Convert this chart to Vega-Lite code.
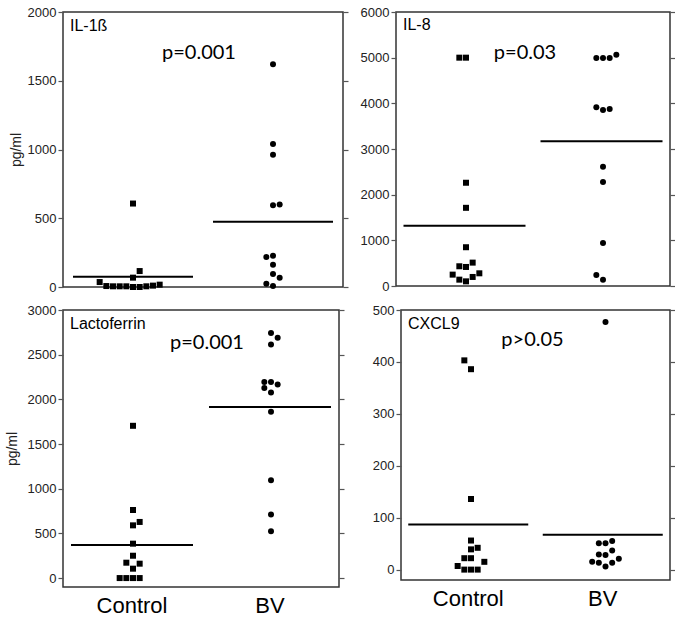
{
  "$schema": "https://vega.github.io/schema/vega-lite/v6.json",
  "padding": {"left": 4, "top": 5, "right": 4, "bottom": 0},
  "background": "white",
  "spacing": 8,
  "config": {
    "view": {"stroke": "#333", "strokeWidth": 1.5},
    "axis": {"labelFont": "Liberation Sans", "labelFontSize": 13, "labelColor": "#222", "tickColor": "#555", "tickSize": 5, "tickWidth": 1.2, "labelPadding": 2, "domain": false, "grid": false, "titleFont": "Liberation Sans", "titleFontWeight": "normal", "titleFontSize": 14, "titleColor": "#222", "titlePadding": 4},
    "tick": {"opacity": 1}
  },
  "datasets": {
    "il1b": [
      {"g": "Control", "col": 0, "v": 607}, {"g": "Control", "col": 1, "v": 116}, {"g": "Control", "col": 0, "v": 68},
      {"g": "Control", "col": -5, "v": 36}, {"g": "Control", "col": -4, "v": 7}, {"g": "Control", "col": -3, "v": 5},
      {"g": "Control", "col": -2, "v": 5}, {"g": "Control", "col": -1, "v": 5}, {"g": "Control", "col": 0, "v": 0},
      {"g": "Control", "col": 1, "v": 0}, {"g": "Control", "col": 2, "v": 5}, {"g": "Control", "col": 3, "v": 10},
      {"g": "Control", "col": 4, "v": 17},
      {"g": "BV", "col": 0, "v": 1620}, {"g": "BV", "col": 0, "v": 1040}, {"g": "BV", "col": 0, "v": 962},
      {"g": "BV", "col": 0, "v": 595}, {"g": "BV", "col": 1, "v": 600}, {"g": "BV", "col": 0, "v": 227},
      {"g": "BV", "col": -1, "v": 218}, {"g": "BV", "col": 0, "v": 162}, {"g": "BV", "col": 0, "v": 94},
      {"g": "BV", "col": 1, "v": 68}, {"g": "BV", "col": -1, "v": 24}, {"g": "BV", "col": 0, "v": 7}
    ],
    "il1b_med": [{"g": "Control", "v": 75}, {"g": "BV", "v": 475}],
    "il8": [
      {"g": "Control", "col": -1, "v": 5000}, {"g": "Control", "col": 0, "v": 5000}, {"g": "Control", "col": 0, "v": 2261},
      {"g": "Control", "col": 0, "v": 1712}, {"g": "Control", "col": 0, "v": 849}, {"g": "Control", "col": -1, "v": 432},
      {"g": "Control", "col": 0, "v": 417}, {"g": "Control", "col": 1, "v": 512}, {"g": "Control", "col": -2, "v": 249},
      {"g": "Control", "col": -1, "v": 139}, {"g": "Control", "col": 0, "v": 102}, {"g": "Control", "col": 1, "v": 198},
      {"g": "Control", "col": 2, "v": 278},
      {"g": "BV", "col": -1, "v": 4990}, {"g": "BV", "col": 0, "v": 4990}, {"g": "BV", "col": 1, "v": 4990},
      {"g": "BV", "col": 2, "v": 5063}, {"g": "BV", "col": -1, "v": 3915}, {"g": "BV", "col": 0, "v": 3856},
      {"g": "BV", "col": 1, "v": 3878}, {"g": "BV", "col": 0, "v": 2612}, {"g": "BV", "col": 0, "v": 2276},
      {"g": "BV", "col": 0, "v": 944}, {"g": "BV", "col": -1, "v": 241}, {"g": "BV", "col": 0, "v": 139}
    ],
    "il8_med": [{"g": "Control", "v": 1320}, {"g": "BV", "v": 3170}],
    "lacto": [
      {"g": "Control", "col": 0, "v": 1704}, {"g": "Control", "col": 0, "v": 762}, {"g": "Control", "col": 1, "v": 628},
      {"g": "Control", "col": 0, "v": 590}, {"g": "Control", "col": 0, "v": 385}, {"g": "Control", "col": 0, "v": 250},
      {"g": "Control", "col": -1, "v": 172}, {"g": "Control", "col": 1, "v": 161}, {"g": "Control", "col": 0, "v": 105},
      {"g": "Control", "col": -2, "v": 0}, {"g": "Control", "col": -1, "v": 0}, {"g": "Control", "col": 0, "v": 0},
      {"g": "Control", "col": 1, "v": 0},
      {"g": "BV", "col": 0, "v": 2742}, {"g": "BV", "col": 1, "v": 2690}, {"g": "BV", "col": 0, "v": 2615},
      {"g": "BV", "col": -1, "v": 2193}, {"g": "BV", "col": 0, "v": 2193}, {"g": "BV", "col": 1, "v": 2167},
      {"g": "BV", "col": -1, "v": 2126}, {"g": "BV", "col": 0, "v": 2077}, {"g": "BV", "col": 0, "v": 1860},
      {"g": "BV", "col": 0, "v": 1095}, {"g": "BV", "col": 0, "v": 710}, {"g": "BV", "col": 0, "v": 523}
    ],
    "lacto_med": [{"g": "Control", "v": 370}, {"g": "BV", "v": 1915}],
    "cxcl9": [
      {"g": "Control", "col": -1, "v": 403}, {"g": "Control", "col": 0, "v": 386}, {"g": "Control", "col": 0, "v": 136},
      {"g": "Control", "col": 0, "v": 56}, {"g": "Control", "col": 1, "v": 42}, {"g": "Control", "col": 0, "v": 39},
      {"g": "Control", "col": -1, "v": 22}, {"g": "Control", "col": 0, "v": 22}, {"g": "Control", "col": 2, "v": 15},
      {"g": "Control", "col": -2, "v": 7}, {"g": "Control", "col": -1, "v": 0}, {"g": "Control", "col": 0, "v": 0},
      {"g": "Control", "col": 1, "v": 0},
      {"g": "BV", "col": 0, "v": 477}, {"g": "BV", "col": -1, "v": 51}, {"g": "BV", "col": 0, "v": 51},
      {"g": "BV", "col": 1, "v": 55}, {"g": "BV", "col": 1, "v": 37}, {"g": "BV", "col": -1, "v": 29},
      {"g": "BV", "col": 0, "v": 28}, {"g": "BV", "col": 2, "v": 21}, {"g": "BV", "col": -2, "v": 15},
      {"g": "BV", "col": -1, "v": 13}, {"g": "BV", "col": 0, "v": 6}, {"g": "BV", "col": 1, "v": 13}
    ],
    "cxcl9_med": [{"g": "Control", "v": 87}, {"g": "BV", "v": 67}]
  },
  "vconcat": [
    {
      "spacing": 9,
      "hconcat": [
        {
          "width": 280, "height": 275,
          "resolve": {"axis": {"y": "independent"}},
          "layer": [
            {
              "data": {"name": "il1b"},
              "mark": {"type": "point", "filled": true, "opacity": 1, "size": 36, "color": "black"},
              "encoding": {
                "x": {"field": "g", "type": "nominal", "scale": {"domain": ["Control", "BV"], "paddingInner": 0, "paddingOuter": 0}, "axis": null},
                "xOffset": {"field": "col", "type": "ordinal", "scale": {"domain": [-10,-9,-8,-7,-6,-5,-4,-3,-2,-1,0,1,2,3,4,5,6,7,8,9,10]}},
                "y": {"field": "v", "type": "quantitative", "scale": {"domain": [0, 2000], "nice": false}, "axis": {"values": [0, 500, 1000, 1500, 2000], "format": "d", "title": "pg/ml"}},
                "shape": {"field": "g", "type": "nominal", "scale": {"domain": ["Control", "BV"], "range": ["square", "circle"]}, "legend": null}
              }
            },
            {
              "data": {"name": "il1b_med"},
              "mark": {"type": "tick", "size": 120, "thickness": 2, "color": "black", "opacity": 1},
              "encoding": {
                "x": {"field": "g", "type": "nominal"},
                "y": {"field": "v", "type": "quantitative", "axis": {"orient": "right", "labels": false, "title": null, "values": [0, 500, 1000, 1500, 2000]}}
              }
            },
            {
              "data": {"values": [{}]},
              "mark": {"type": "text", "font": "Liberation Sans", "fontSize": 16, "align": "left", "baseline": "middle", "dx": 7, "color": "black"},
              "encoding": {"x": {"datum": "Control", "bandPosition": 0}, "y": {"datum": 1900, "axis": null}, "text": {"value": "IL-1ß"}}
            },
            {
              "data": {"values": [{}]},
              "mark": {"type": "text", "font": "Lato", "fontSize": 20, "align": "center", "baseline": "middle", "dx": -4, "color": "black"},
              "encoding": {"x": {"datum": "BV", "bandPosition": 0}, "y": {"datum": 1700, "axis": null}, "text": {"value": "p=0.001"}}
            }
          ]
        },
        {
          "width": 274, "height": 274,
          "resolve": {"axis": {"y": "independent"}},
          "layer": [
            {
              "data": {"name": "il8"},
              "mark": {"type": "point", "filled": true, "opacity": 1, "size": 36, "color": "black"},
              "encoding": {
                "x": {"field": "g", "type": "nominal", "scale": {"domain": ["Control", "BV"], "paddingInner": 0, "paddingOuter": 0}, "axis": null},
                "xOffset": {"field": "col", "type": "ordinal", "scale": {"domain": [-10,-9,-8,-7,-6,-5,-4,-3,-2,-1,0,1,2,3,4,5,6,7,8,9,10]}},
                "y": {"field": "v", "type": "quantitative", "scale": {"domain": [0, 6000], "nice": false}, "axis": {"values": [0, 1000, 2000, 3000, 4000, 5000, 6000], "format": "d", "title": null}},
                "shape": {"field": "g", "type": "nominal", "scale": {"domain": ["Control", "BV"], "range": ["square", "circle"]}, "legend": null}
              }
            },
            {
              "data": {"name": "il8_med"},
              "mark": {"type": "tick", "size": 122, "thickness": 2, "color": "black", "opacity": 1},
              "encoding": {
                "x": {"field": "g", "type": "nominal"},
                "y": {"field": "v", "type": "quantitative", "axis": {"orient": "right", "labels": false, "title": null, "values": [0, 1000, 2000, 3000, 4000, 5000, 6000]}}
              }
            },
            {
              "data": {"values": [{}]},
              "mark": {"type": "text", "font": "Liberation Sans", "fontSize": 16, "align": "left", "baseline": "middle", "dx": 7, "color": "black"},
              "encoding": {"x": {"datum": "Control", "bandPosition": 0}, "y": {"datum": 5715, "axis": null}, "text": {"value": "IL-8"}}
            },
            {
              "data": {"values": [{}]},
              "mark": {"type": "text", "font": "Lato", "fontSize": 20, "align": "center", "baseline": "middle", "dx": -8, "color": "black"},
              "encoding": {"x": {"datum": "BV", "bandPosition": 0}, "y": {"datum": 5100, "axis": null}, "text": {"value": "p=0.03"}}
            }
          ]
        }
      ]
    },
    {
      "spacing": 25,
      "hconcat": [
        {
          "width": 276, "height": 277,
          "resolve": {"axis": {"y": "independent"}},
          "layer": [
            {
              "data": {"name": "lacto"},
              "mark": {"type": "point", "filled": true, "opacity": 1, "size": 36, "color": "black"},
              "encoding": {
                "x": {"field": "g", "type": "nominal", "scale": {"domain": ["Control", "BV"], "paddingInner": 0, "paddingOuter": 0}, "axis": {"title": null, "labelFontSize": 22, "labelColor": "black", "ticks": false, "labelPadding": 8, "labelAngle": 0}},
                "xOffset": {"field": "col", "type": "ordinal", "scale": {"domain": [-10,-9,-8,-7,-6,-5,-4,-3,-2,-1,0,1,2,3,4,5,6,7,8,9,10]}},
                "y": {"field": "v", "type": "quantitative", "scale": {"domain": [-100, 3000], "nice": false}, "axis": {"values": [0, 500, 1000, 1500, 2000, 2500, 3000], "format": "d", "title": "pg/ml", "titlePadding": 8}},
                "shape": {"field": "g", "type": "nominal", "scale": {"domain": ["Control", "BV"], "range": ["square", "circle"]}, "legend": null}
              }
            },
            {
              "data": {"name": "lacto_med"},
              "mark": {"type": "tick", "size": 122, "thickness": 2, "color": "black", "opacity": 1},
              "encoding": {
                "x": {"field": "g", "type": "nominal"},
                "y": {"field": "v", "type": "quantitative", "axis": {"orient": "right", "labels": false, "title": null, "values": [0, 500, 1000, 1500, 2000, 2500, 3000]}}
              }
            },
            {
              "data": {"values": [{}]},
              "mark": {"type": "text", "font": "Liberation Sans", "fontSize": 16, "align": "left", "baseline": "middle", "dx": 7, "color": "black"},
              "encoding": {"x": {"datum": "Control", "bandPosition": 0}, "y": {"datum": 2845, "axis": null}, "text": {"value": "Lactoferrin"}}
            },
            {
              "data": {"values": [{}]},
              "mark": {"type": "text", "font": "Lato", "fontSize": 20, "align": "center", "baseline": "middle", "dx": 6, "color": "black"},
              "encoding": {"x": {"datum": "BV", "bandPosition": 0}, "y": {"datum": 2630, "axis": null}, "text": {"value": "p=0.001"}}
            }
          ]
        },
        {
          "width": 269, "height": 270,
          "resolve": {"axis": {"y": "independent"}},
          "layer": [
            {
              "data": {"name": "cxcl9"},
              "mark": {"type": "point", "filled": true, "opacity": 1, "size": 36, "color": "black"},
              "encoding": {
                "x": {"field": "g", "type": "nominal", "scale": {"domain": ["Control", "BV"], "paddingInner": 0, "paddingOuter": 0}, "axis": {"title": null, "labelFontSize": 22, "labelColor": "black", "ticks": false, "labelPadding": 8, "labelAngle": 0}},
                "xOffset": {"field": "col", "type": "ordinal", "scale": {"domain": [-10,-9,-8,-7,-6,-5,-4,-3,-2,-1,0,1,2,3,4,5,6,7,8,9,10]}},
                "y": {"field": "v", "type": "quantitative", "scale": {"domain": [-20, 500], "nice": false}, "axis": {"values": [0, 100, 200, 300, 400, 500], "format": "d", "title": null}},
                "shape": {"field": "g", "type": "nominal", "scale": {"domain": ["Control", "BV"], "range": ["square", "circle"]}, "legend": null}
              }
            },
            {
              "data": {"name": "cxcl9_med"},
              "mark": {"type": "tick", "size": 120, "thickness": 2, "color": "black", "opacity": 1},
              "encoding": {
                "x": {"field": "g", "type": "nominal"},
                "y": {"field": "v", "type": "quantitative", "axis": {"orient": "right", "labels": false, "title": null, "values": [0, 100, 200, 300, 400, 500]}}
              }
            },
            {
              "data": {"values": [{}]},
              "mark": {"type": "text", "font": "Liberation Sans", "fontSize": 16, "align": "left", "baseline": "middle", "dx": 7, "color": "black"},
              "encoding": {"x": {"datum": "Control", "bandPosition": 0}, "y": {"datum": 473, "axis": null}, "text": {"value": "CXCL9"}}
            },
            {
              "data": {"values": [{}]},
              "mark": {"type": "text", "font": "Lato", "fontSize": 20, "align": "center", "baseline": "middle", "dx": -3, "color": "black"},
              "encoding": {"x": {"datum": "BV", "bandPosition": 0}, "y": {"datum": 442, "axis": null}, "text": {"value": "p>0.05"}}
            }
          ]
        }
      ]
    }
  ]
}
